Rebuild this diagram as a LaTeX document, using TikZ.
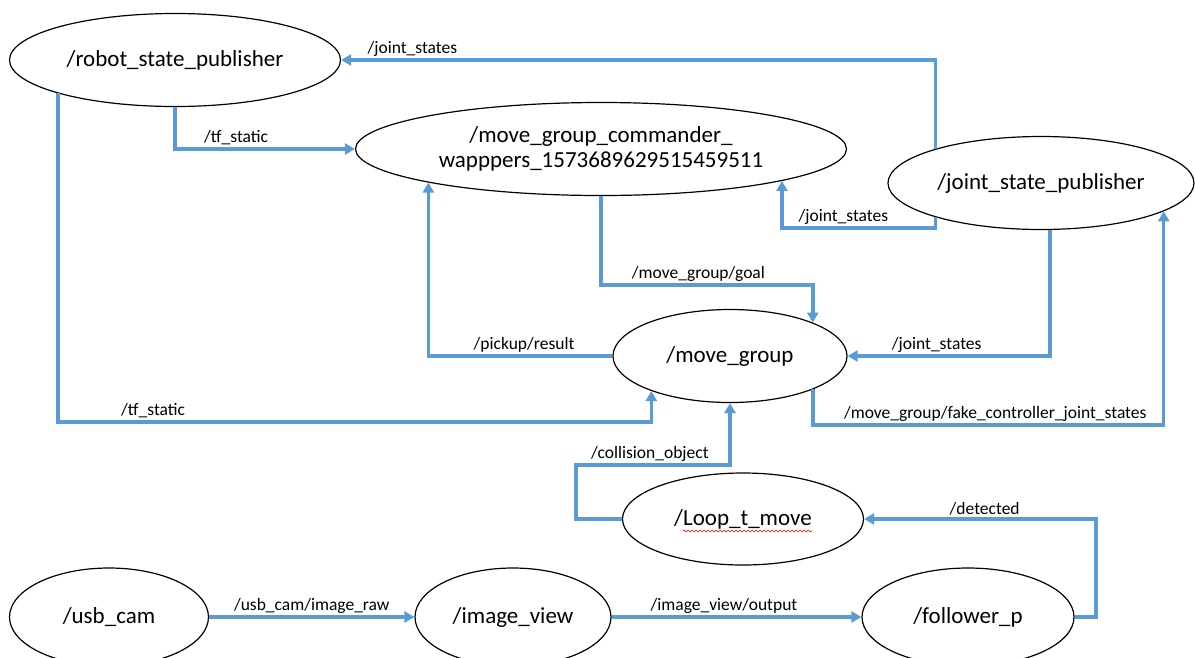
\documentclass[tikz,border=0pt]{standalone}
\usepackage{fontspec}
\setmainfont{Carlito}
\usepackage{tikz}
\usetikzlibrary{shapes.geometric,arrows.meta,decorations.pathmorphing}
\definecolor{topicblue}{RGB}{91,155,213}

\begin{document}
\begin{tikzpicture}
[x=1pt, y=-1pt,
  rosnode/.style={ellipse, draw=black, line width=1.2pt, fill=white, inner sep=0pt,
    minimum height=93pt, font=\fontsize{23}{25}\selectfont, align=center},
  topic/.style={draw=topicblue, line width=3.5pt, -{Triangle[length=10pt,width=11pt]}},
  lbl/.style={font=\fontsize{17.5}{20}\selectfont, inner sep=1pt, above=1pt},
  spellmark/.style={draw=red, line width=0.6pt, decorate,
    decoration={snake, amplitude=1pt, segment length=4pt}}]
\useasboundingbox (0,0) rectangle (1195,657);

% nodes
\node[rosnode, minimum width=331pt] (rsp) at (175,60) {/robot\_state\_publisher};
\node[rosnode, minimum width=491pt] (mgc) at (601,149) {/move\_group\_commander\_\\wapppers\_1573689629515459511};
\node[rosnode, minimum width=306pt] (jsp) at (1041,183) {/joint\_state\_publisher};
\node[rosnode, minimum width=234pt] (mg) at (730,356) {/move\_group};
\node[rosnode, minimum width=241pt, minimum height=92pt] (loop) at (743,519) {/Loop\_t\_move};
\node[rosnode, minimum width=199pt, minimum height=98pt] (usb) at (109,617) {/usb\_cam};
\node[rosnode, minimum width=196pt, minimum height=98pt] (iv) at (513,617) {/image\_view};
\node[rosnode, minimum width=212pt, minimum height=98pt] (fol) at (968,617) {/follower\_p};
\draw[spellmark] ([shift={(-60,12)}]loop.center) -- ([shift={(69,12)}]loop.center);

% bends
\coordinate (tfrow) at (0,422);
\coordinate (goalrow) at (0,285);
\coordinate (jsrow) at (0,228);
\coordinate (fakerow) at (0,425);
\coordinate (cobend) at (576,465);
\coordinate (detbend) at (1096,519);

% topics
\draw[topic] (jsp.162) |- node[lbl, pos=0.94] {/joint\_states} (rsp.east);
\draw[topic] (rsp.south) |- node[lbl, pos=0.67] {/tf\_static} (mgc.west);
\draw[topic] (rsp.-164) -- (rsp.-164 |- tfrow) -| node[lbl, pos=0.08] {/tf\_static} (mg.-156.5);
\draw[topic] (mgc.south) -- (mgc.south |- goalrow) -| node[lbl, pos=0.23] {/move\_group/goal} (mg.22.5);
\draw[topic] (mg.west) -| node[lbl, pos=0.24] {/pickup/result} (mgc.-169);
\draw[topic] (jsp.-162) -- (jsp.-162 |- jsrow) -| node[lbl, pos=0.3] {/joint\_states} (mgc.-10.7);
\draw[topic] (jsp.-79) |- node[lbl, pos=0.78] {/joint\_states} (mg.east);
\draw[topic] (mg.-22.5) -- (mg.-22.5 |- fakerow) -| node[lbl, pos=0.26] {/move\_group/fake\_controller\_joint\_states} (jsp.-13.3);
\draw[topic] (loop.west) -| (cobend) -| node[lbl, pos=0.24] {/collision\_object} (mg.south);
\draw[topic] (fol.east) -| (detbend) -- node[lbl, pos=0.48] {/detected} (loop.east);
\draw[topic] (usb) -- node[lbl] {/usb\_cam/image\_raw} (iv);
\draw[topic] (iv) -- node[lbl, pos=0.45] {/image\_view/output} (fol);
\end{tikzpicture}
\end{document}
